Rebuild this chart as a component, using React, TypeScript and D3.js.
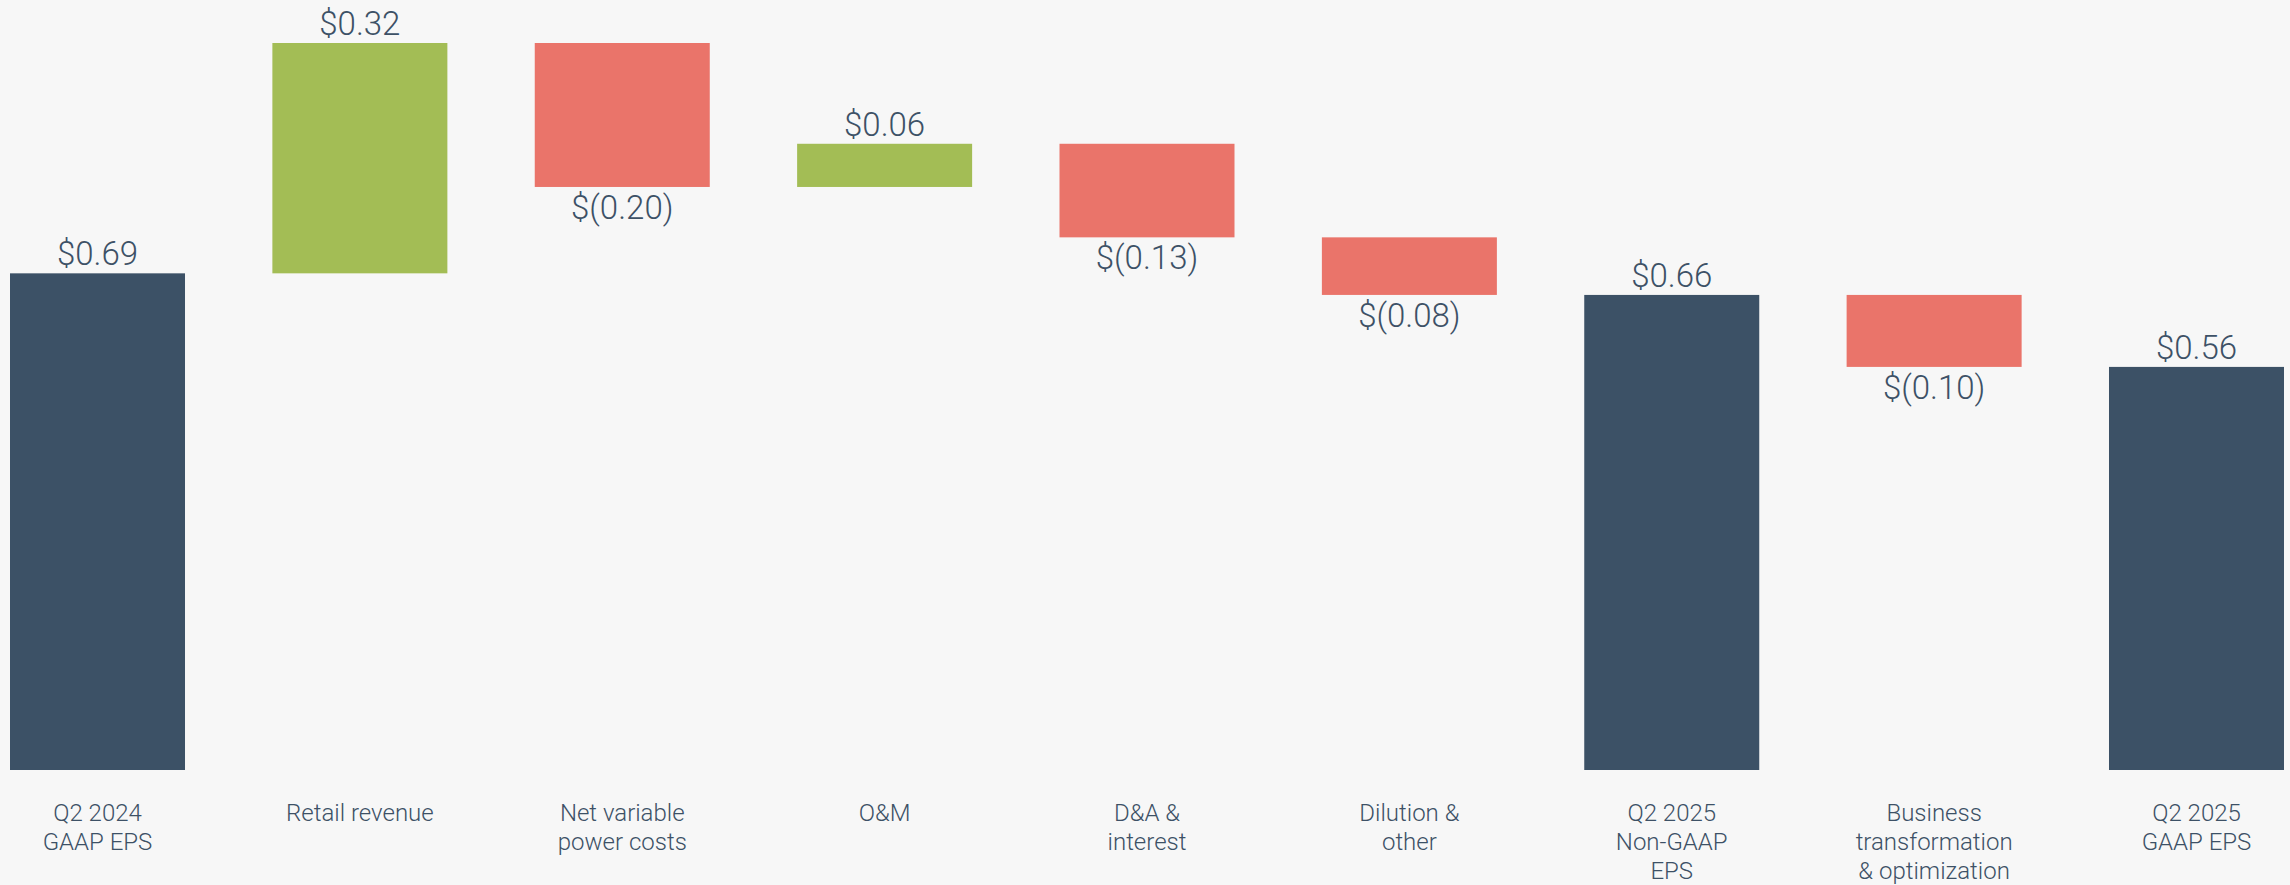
import React, { useEffect } from "react";
import * as d3 from "d3";

const categories: string[][] = [
  ["Q2 2024", "GAAP EPS"],
  ["Retail revenue"],
  ["Net variable", "power costs"],
  ["O&M"],
  ["D&A &", "interest"],
  ["Dilution &", "other"],
  ["Q2 2025", "Non-GAAP", "EPS"],
  ["Business", "transformation", "& optimization"],
  ["Q2 2025", "GAAP EPS"],
];
const values: number[] = [0.69, 0.32, -0.2, 0.06, -0.13, -0.08, 0.66, -0.1, 0.56];
const kinds: string[] = ["total", "delta", "delta", "delta", "delta", "delta", "total", "delta", "total"];

const W = 2290;
const H = 885;
const COLORS = { total: "#3c5166", up: "#a3bd55", down: "#ea746a", text: "#3d5166", bg: "#f7f7f7" };

export default function App() {
  useEffect(() => {
    document.body.style.margin = "0";
    document.body.style.overflow = "hidden";
  }, []);

  let cum = 0;
  const bars = values.map((v, i) => {
    let y0: number, y1: number;
    if (kinds[i] === "total") {
      y0 = 0;
      y1 = v;
      cum = v;
    } else {
      y0 = cum;
      y1 = cum + v;
      cum = y1;
    }
    return { i, v, kind: kinds[i], lo: Math.min(y0, y1), hi: Math.max(y0, y1) };
  });

  const maxY = d3.max(bars, (b) => b.hi) as number;
  const y = d3.scaleLinear().domain([0, maxY]).range([770, 43]);
  const x = d3
    .scaleBand<number>()
    .domain(values.map((_, i) => i))
    .range([10, 2284])
    .paddingInner(0.333)
    .paddingOuter(0);

  const fmt = (v: number) => {
    const s = Math.abs(v).toFixed(2);
    return v < 0 ? `$(${s})` : `$${s}`;
  };

  const font = "Roboto, 'Open Sans', sans-serif";

  return (
    <svg
      width={W}
      height={H}
      style={{ position: "absolute", left: 0, top: 0, display: "block", background: COLORS.bg }}
    >
      <rect x={0} y={0} width={W} height={H} fill={COLORS.bg} />
      {bars.map((b) => {
        const bx = x(b.i) as number;
        const bw = x.bandwidth();
        const fill = b.kind === "total" ? COLORS.total : b.v >= 0 ? COLORS.up : COLORS.down;
        const cx = bx + bw / 2;
        const negative = b.kind === "delta" && b.v < 0;
        return (
          <g key={b.i}>
            <rect x={bx} y={y(b.hi)} width={bw} height={y(b.lo) - y(b.hi)} fill={fill} />
            <text
              x={cx}
              y={negative ? y(b.lo) + 32 : y(b.hi) - 8}
              textAnchor="middle"
              fontFamily={font}
              fontWeight={300}
              fontSize={33}
              fill={COLORS.text}
            >
              {fmt(b.v)}
            </text>
            <text textAnchor="middle" fontFamily={font} fontWeight={300} fontSize={24} fill={COLORS.text}>
              {categories[b.i].map((line, k) => (
                <tspan key={k} x={cx} y={821 + k * 29}>
                  {line}
                </tspan>
              ))}
            </text>
          </g>
        );
      })}
    </svg>
  );
}
